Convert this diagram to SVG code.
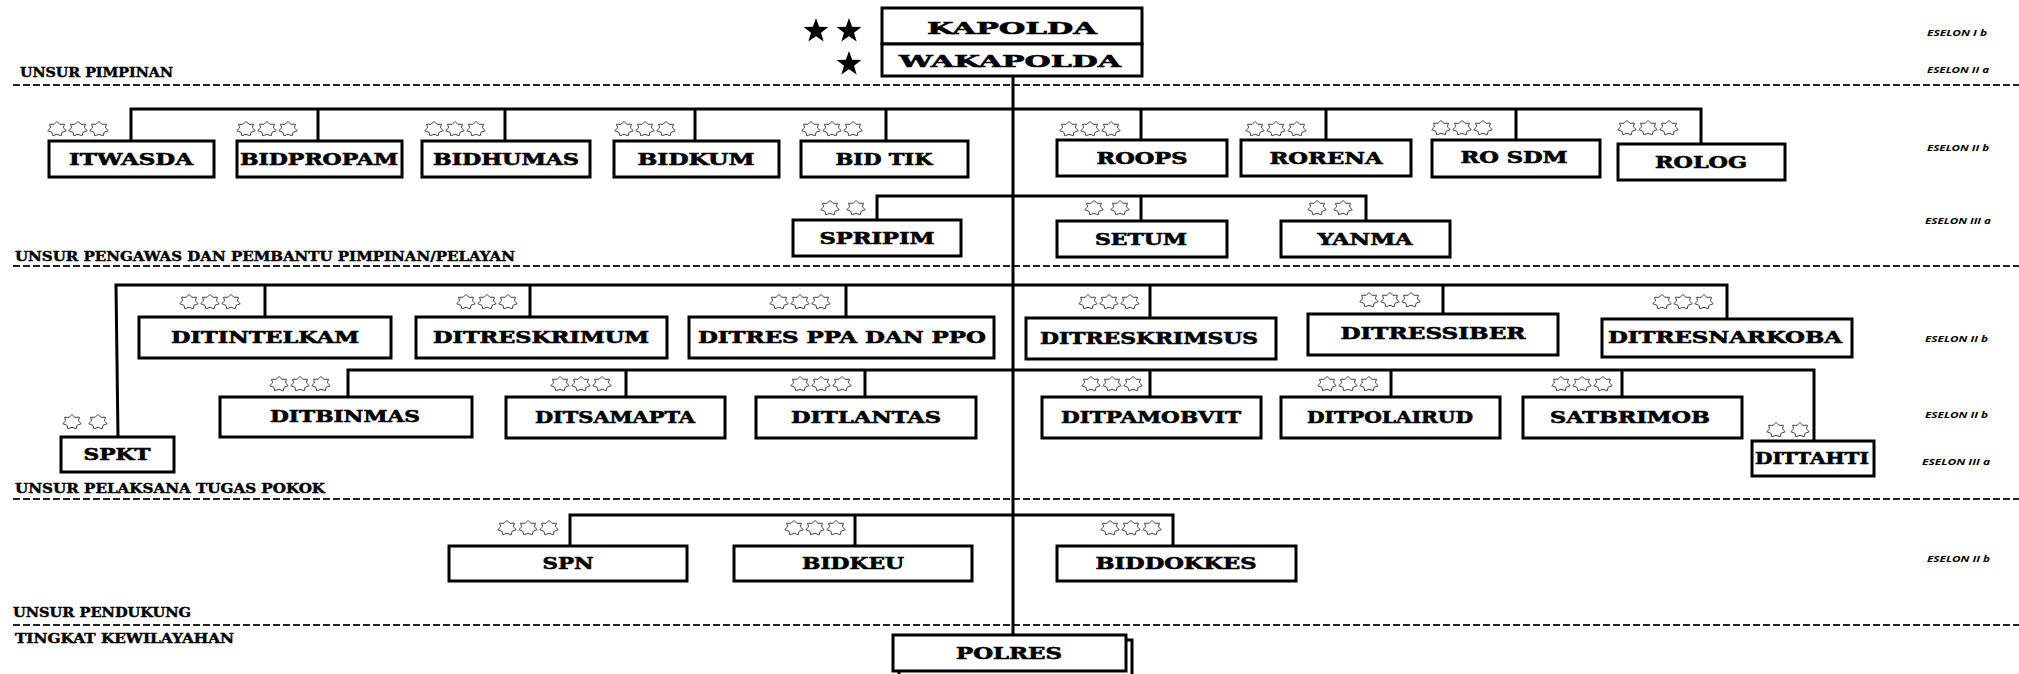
<svg xmlns="http://www.w3.org/2000/svg" xmlns:xlink="http://www.w3.org/1999/xlink" width="2019" height="674" viewBox="0 0 2019 674">
<style>
.box{fill:#fff;stroke:#000;stroke-width:3}
.t{font-family:"DejaVu Serif","Liberation Serif",serif;font-weight:bold;font-size:16px;text-anchor:middle;fill:#000;stroke:#000;stroke-width:0.6}
.sec{font-family:"DejaVu Serif","Liberation Serif",serif;font-weight:bold;font-size:12px;fill:#000;stroke:#000;stroke-width:0.4}
.es{font-family:"Open Sans","DejaVu Sans",sans-serif;font-weight:bold;font-style:italic;font-size:8px;fill:#000}
.dash{stroke:#222;stroke-width:2;stroke-dasharray:7 3;fill:none}
.ln{stroke:#000;stroke-width:3;fill:none}
.st{fill:#fff;stroke:#444;stroke-width:1}
.fs{fill:#000}
</style>
<defs>
<polygon id="star" class="st" points="0,-7.6 2.84,-4.72 7.43,-4.74 6.38,-1.16 9.26,1.69 5.12,3.27 4.13,6.85 0,5.24 -4.13,6.85 -5.12,3.27 -9.26,1.69 -6.38,-1.16 -7.43,-4.74 -2.84,-4.72"/>
<polygon id="bstar" class="fs" points="0,-13 3.12,-4.29 12.36,-4.02 5.04,1.64 7.64,10.52 0,5.3 -7.64,10.52 -5.04,1.64 -12.36,-4.02 -3.12,-4.29"/>
</defs>
<rect width="2019" height="674" fill="#fff"/>

<!-- section dividers and labels -->
<g id="sections">
<line class="dash" x1="13" y1="85" x2="2019" y2="85"/>
<line class="dash" x1="13" y1="266" x2="2019" y2="266"/>
<line class="dash" x1="13" y1="499" x2="2019" y2="499"/>
<line class="dash" x1="13" y1="625" x2="2019" y2="625"/>
<text class="sec" x="20" y="77" textLength="153" lengthAdjust="spacingAndGlyphs">UNSUR PIMPINAN</text>
<text class="sec" x="15" y="261" textLength="500" lengthAdjust="spacingAndGlyphs">UNSUR PENGAWAS DAN PEMBANTU PIMPINAN/PELAYAN</text>
<text class="sec" x="15" y="493" textLength="310" lengthAdjust="spacingAndGlyphs">UNSUR PELAKSANA TUGAS POKOK</text>
<text class="sec" x="13" y="617" textLength="178" lengthAdjust="spacingAndGlyphs">UNSUR PENDUKUNG</text>
<text class="sec" x="15" y="643" textLength="219" lengthAdjust="spacingAndGlyphs">TINGKAT KEWILAYAHAN</text>
</g>

<g id="eselon">
<text class="es" x="1927" y="36" textLength="60" lengthAdjust="spacingAndGlyphs">ESELON I b</text>
<text class="es" x="1927" y="73" textLength="62" lengthAdjust="spacingAndGlyphs">ESELON II a</text>
<text class="es" x="1927" y="151" textLength="62" lengthAdjust="spacingAndGlyphs">ESELON II b</text>
<text class="es" x="1925" y="224" textLength="66" lengthAdjust="spacingAndGlyphs">ESELON III a</text>
<text class="es" x="1925" y="342" textLength="63" lengthAdjust="spacingAndGlyphs">ESELON II b</text>
<text class="es" x="1925" y="418" textLength="63" lengthAdjust="spacingAndGlyphs">ESELON II b</text>
<text class="es" x="1922" y="465" textLength="68" lengthAdjust="spacingAndGlyphs">ESELON III a</text>
<text class="es" x="1927" y="562" textLength="63" lengthAdjust="spacingAndGlyphs">ESELON II b</text>
</g>

<!-- connectors -->
<g id="connectors">
<line class="ln" x1="1013" y1="76" x2="1013" y2="635"/>
<!-- row 1 -->
<polyline class="ln" points="131,140 131,109 1701,109 1701,144"/>
<line class="ln" x1="318" y1="109" x2="318" y2="140"/>
<line class="ln" x1="505" y1="109" x2="505" y2="140"/>
<line class="ln" x1="695" y1="109" x2="695" y2="140"/>
<line class="ln" x1="886" y1="109" x2="886" y2="140"/>
<line class="ln" x1="1141" y1="109" x2="1141" y2="140"/>
<line class="ln" x1="1326" y1="109" x2="1326" y2="140"/>
<line class="ln" x1="1516" y1="109" x2="1516" y2="140"/>
<!-- row 2 -->
<polyline class="ln" points="877,220 877,196 1366,196 1366,220"/>
<line class="ln" x1="1141" y1="196" x2="1141" y2="220"/>
<!-- row 3 -->
<polyline class="ln" points="118,437 116,285 1727,285 1727,319"/>
<line class="ln" x1="265" y1="285" x2="265" y2="317"/>
<line class="ln" x1="530" y1="285" x2="530" y2="317"/>
<line class="ln" x1="846" y1="285" x2="846" y2="317"/>
<line class="ln" x1="1150" y1="285" x2="1150" y2="317"/>
<line class="ln" x1="1443" y1="285" x2="1443" y2="314"/>
<!-- row 4 -->
<polyline class="ln" points="348,397 348,370 1814,370 1814,441"/>
<line class="ln" x1="626" y1="370" x2="626" y2="397"/>
<line class="ln" x1="865" y1="370" x2="865" y2="397"/>
<line class="ln" x1="1150" y1="370" x2="1150" y2="397"/>
<line class="ln" x1="1391" y1="370" x2="1391" y2="397"/>
<line class="ln" x1="1622" y1="370" x2="1622" y2="397"/>
<!-- row 5 -->
<polyline class="ln" points="570,546 570,515 1173,515 1173,546"/>
<line class="ln" x1="855" y1="515" x2="855" y2="546"/>
</g>

<!-- top -->
<g id="kapolda">
<use href="#bstar" x="816" y="31"/>
<use href="#bstar" x="849" y="31"/>
<rect class="box" x="882" y="8" width="260" height="36"/>
<text class="t" x="1012" y="34" style="font-size:17px" textLength="170" lengthAdjust="spacingAndGlyphs">KAPOLDA</text>
</g>
<g id="wakapolda">
<use href="#bstar" x="849" y="64"/>
<rect class="box" x="882" y="44" width="260" height="32"/>
<text class="t" x="1010" y="67" style="font-size:17px" textLength="222" lengthAdjust="spacingAndGlyphs">WAKAPOLDA</text>
</g>

<!-- row 1 -->
<g id="itwasda"><use href="#star" x="57" y="129"/><use href="#star" x="78" y="129"/><use href="#star" x="99" y="129"/>
<rect class="box" x="49" y="141" width="165" height="36"/><text class="t" x="131" y="165" textLength="124" lengthAdjust="spacingAndGlyphs">ITWASDA</text></g>
<g id="bidpropam"><use href="#star" x="246" y="129"/><use href="#star" x="267" y="129"/><use href="#star" x="288" y="129"/>
<rect class="box" x="237" y="141" width="165" height="36"/><text class="t" x="319" y="165" textLength="158" lengthAdjust="spacingAndGlyphs">BIDPROPAM</text></g>
<g id="bidhumas"><use href="#star" x="434" y="129"/><use href="#star" x="455" y="129"/><use href="#star" x="476" y="129"/>
<rect class="box" x="422" y="141" width="168" height="36"/><text class="t" x="506" y="165" textLength="146" lengthAdjust="spacingAndGlyphs">BIDHUMAS</text></g>
<g id="bidkum"><use href="#star" x="624" y="129"/><use href="#star" x="645" y="129"/><use href="#star" x="666" y="129"/>
<rect class="box" x="614" y="141" width="165" height="36"/><text class="t" x="696" y="165" textLength="117" lengthAdjust="spacingAndGlyphs">BIDKUM</text></g>
<g id="bidtik"><use href="#star" x="811" y="129"/><use href="#star" x="832" y="129"/><use href="#star" x="853" y="129"/>
<rect class="box" x="801" y="141" width="167" height="36"/><text class="t" x="884" y="165" textLength="97" lengthAdjust="spacingAndGlyphs">BID TIK</text></g>
<g id="roops"><use href="#star" x="1069" y="129"/><use href="#star" x="1090" y="129"/><use href="#star" x="1111" y="129"/>
<rect class="box" x="1057" y="140" width="170" height="36"/><text class="t" x="1142" y="164" textLength="91" lengthAdjust="spacingAndGlyphs">ROOPS</text></g>
<g id="rorena"><use href="#star" x="1255" y="129"/><use href="#star" x="1276" y="129"/><use href="#star" x="1297" y="129"/>
<rect class="box" x="1241" y="140" width="170" height="36"/><text class="t" x="1326" y="164" textLength="113" lengthAdjust="spacingAndGlyphs">RORENA</text></g>
<g id="rosdm"><use href="#star" x="1441" y="128"/><use href="#star" x="1462" y="128"/><use href="#star" x="1483" y="128"/>
<rect class="box" x="1432" y="140" width="168" height="37"/><text class="t" x="1514" y="163" textLength="107" lengthAdjust="spacingAndGlyphs">RO SDM</text></g>
<g id="rolog"><use href="#star" x="1627" y="128"/><use href="#star" x="1648" y="128"/><use href="#star" x="1669" y="128"/>
<rect class="box" x="1618" y="144" width="167" height="36"/><text class="t" x="1701" y="168" textLength="92" lengthAdjust="spacingAndGlyphs">ROLOG</text></g>

<!-- row 2 -->
<g id="spripim"><use href="#star" x="830" y="208"/><use href="#star" x="856" y="208"/>
<rect class="box" x="793" y="220" width="168" height="36"/><text class="t" x="877" y="244" textLength="115" lengthAdjust="spacingAndGlyphs">SPRIPIM</text></g>
<g id="setum"><use href="#star" x="1094" y="208"/><use href="#star" x="1120" y="208"/>
<rect class="box" x="1057" y="221" width="170" height="36"/><text class="t" x="1141" y="245" textLength="92" lengthAdjust="spacingAndGlyphs">SETUM</text></g>
<g id="yanma"><use href="#star" x="1317" y="208"/><use href="#star" x="1343" y="208"/>
<rect class="box" x="1281" y="221" width="169" height="36"/><text class="t" x="1365" y="245" textLength="95" lengthAdjust="spacingAndGlyphs">YANMA</text></g>

<!-- row 3 -->
<g id="ditintelkam"><use href="#star" x="189" y="302"/><use href="#star" x="210" y="302"/><use href="#star" x="231" y="302"/>
<rect class="box" x="139" y="317" width="252" height="41"/><text class="t" x="265" y="343" textLength="188" lengthAdjust="spacingAndGlyphs">DITINTELKAM</text></g>
<g id="ditreskrimum"><use href="#star" x="466" y="302"/><use href="#star" x="487" y="302"/><use href="#star" x="508" y="302"/>
<rect class="box" x="416" y="317" width="251" height="41"/><text class="t" x="541" y="343" textLength="216" lengthAdjust="spacingAndGlyphs">DITRESKRIMUM</text></g>
<g id="ditresppa"><use href="#star" x="779" y="302"/><use href="#star" x="800" y="302"/><use href="#star" x="821" y="302"/>
<rect class="box" x="689" y="317" width="305" height="41"/><text class="t" x="842" y="343" textLength="288" lengthAdjust="spacingAndGlyphs">DITRES PPA DAN PPO</text></g>
<g id="ditreskrimsus"><use href="#star" x="1088" y="302"/><use href="#star" x="1109" y="302"/><use href="#star" x="1130" y="302"/>
<rect class="box" x="1026" y="318" width="250" height="41"/><text class="t" x="1149" y="344" textLength="218" lengthAdjust="spacingAndGlyphs">DITRESKRIMSUS</text></g>
<g id="ditressiber"><use href="#star" x="1369" y="300"/><use href="#star" x="1390" y="300"/><use href="#star" x="1411" y="300"/>
<rect class="box" x="1308" y="314" width="250" height="41"/><text class="t" x="1433" y="339" textLength="185" lengthAdjust="spacingAndGlyphs">DITRESSIBER</text></g>
<g id="ditresnarkoba"><use href="#star" x="1662" y="302"/><use href="#star" x="1683" y="302"/><use href="#star" x="1704" y="302"/>
<rect class="box" x="1602" y="319" width="250" height="38"/><text class="t" x="1725" y="343" textLength="234" lengthAdjust="spacingAndGlyphs">DITRESNARKOBA</text></g>

<!-- row 4 -->
<g id="spkt"><use href="#star" x="72" y="422"/><use href="#star" x="98" y="422"/>
<rect class="box" x="61" y="437" width="113" height="35"/><text class="t" x="117" y="460" textLength="67" lengthAdjust="spacingAndGlyphs">SPKT</text></g>
<g id="ditbinmas"><use href="#star" x="279" y="384"/><use href="#star" x="300" y="384"/><use href="#star" x="321" y="384"/>
<rect class="box" x="220" y="397" width="252" height="40"/><text class="t" x="345" y="422" textLength="150" lengthAdjust="spacingAndGlyphs">DITBINMAS</text></g>
<g id="ditsamapta"><use href="#star" x="560" y="384"/><use href="#star" x="581" y="384"/><use href="#star" x="602" y="384"/>
<rect class="box" x="506" y="397" width="219" height="41"/><text class="t" x="615" y="423" textLength="160" lengthAdjust="spacingAndGlyphs">DITSAMAPTA</text></g>
<g id="ditlantas"><use href="#star" x="800" y="384"/><use href="#star" x="821" y="384"/><use href="#star" x="842" y="384"/>
<rect class="box" x="756" y="397" width="220" height="41"/><text class="t" x="866" y="423" textLength="150" lengthAdjust="spacingAndGlyphs">DITLANTAS</text></g>
<g id="ditpamobvit"><use href="#star" x="1091" y="384"/><use href="#star" x="1112" y="384"/><use href="#star" x="1133" y="384"/>
<rect class="box" x="1042" y="397" width="219" height="41"/><text class="t" x="1151" y="423" textLength="180" lengthAdjust="spacingAndGlyphs">DITPAMOBVIT</text></g>
<g id="ditpolairud"><use href="#star" x="1327" y="384"/><use href="#star" x="1348" y="384"/><use href="#star" x="1369" y="384"/>
<rect class="box" x="1281" y="397" width="219" height="41"/><text class="t" x="1390" y="423" textLength="166" lengthAdjust="spacingAndGlyphs">DITPOLAIRUD</text></g>
<g id="satbrimob"><use href="#star" x="1561" y="384"/><use href="#star" x="1582" y="384"/><use href="#star" x="1603" y="384"/>
<rect class="box" x="1523" y="397" width="219" height="41"/><text class="t" x="1630" y="423" textLength="160" lengthAdjust="spacingAndGlyphs">SATBRIMOB</text></g>
<g id="dittahti"><use href="#star" x="1776" y="430"/><use href="#star" x="1800" y="430"/>
<rect class="box" x="1752" y="441" width="122" height="35"/><text class="t" x="1812" y="464" textLength="114" lengthAdjust="spacingAndGlyphs">DITTAHTI</text></g>

<!-- row 5 -->
<g id="spn"><use href="#star" x="507" y="528"/><use href="#star" x="528" y="528"/><use href="#star" x="549" y="528"/>
<rect class="box" x="449" y="546" width="238" height="35"/><text class="t" x="568" y="569" textLength="51" lengthAdjust="spacingAndGlyphs">SPN</text></g>
<g id="bidkeu"><use href="#star" x="794" y="528"/><use href="#star" x="815" y="528"/><use href="#star" x="836" y="528"/>
<rect class="box" x="734" y="546" width="238" height="35"/><text class="t" x="853" y="569" textLength="102" lengthAdjust="spacingAndGlyphs">BIDKEU</text></g>
<g id="biddokkes"><use href="#star" x="1110" y="528"/><use href="#star" x="1131" y="528"/><use href="#star" x="1152" y="528"/>
<rect class="box" x="1057" y="546" width="239" height="35"/><text class="t" x="1176" y="569" textLength="161" lengthAdjust="spacingAndGlyphs">BIDDOKKES</text></g>

<!-- polres -->
<g id="polres">
<rect class="box" x="899" y="640" width="233" height="36"/>
<rect class="box" x="893" y="635" width="233" height="36"/>
<text class="t" x="1009" y="659" textLength="106" lengthAdjust="spacingAndGlyphs">POLRES</text>
</g>
</svg>
